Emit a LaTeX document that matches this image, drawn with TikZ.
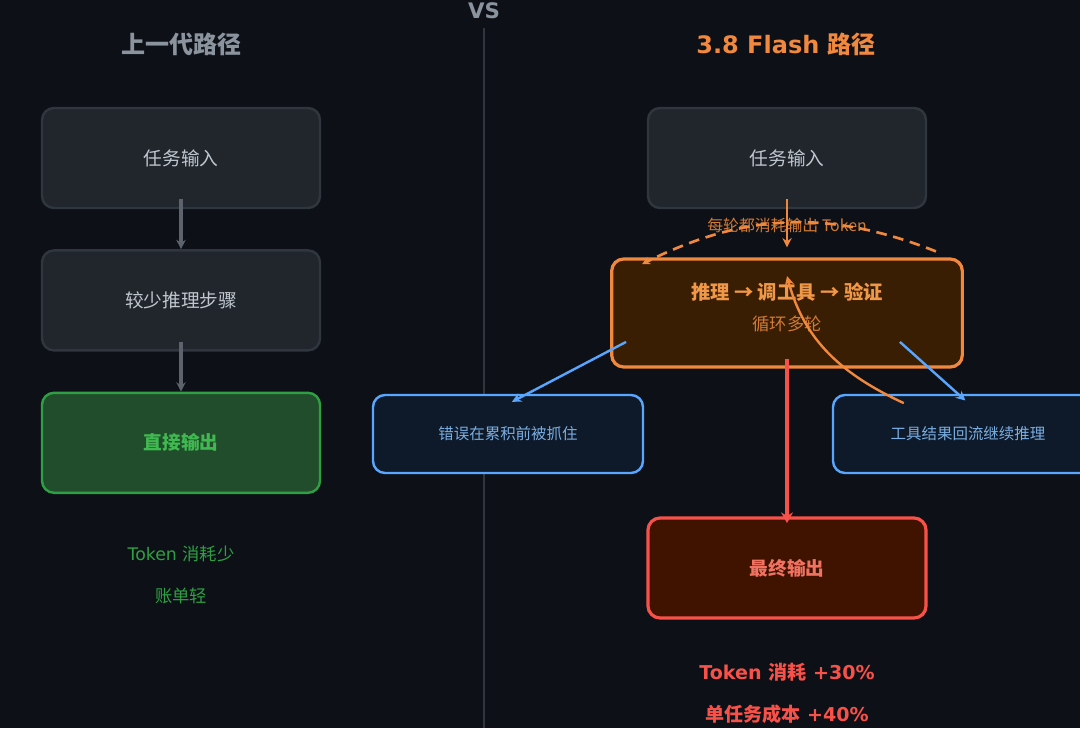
\documentclass[tikz,border=0pt]{standalone}
\usepackage{fontspec}
\setmainfont{DejaVu Sans}
\newfontfamily\cjk{Noto Sans CJK SC}
\usepackage{tikz}
\usetikzlibrary{positioning,arrows.meta}

\definecolor{bg}{HTML}{0D1117}
\definecolor{boxfill}{HTML}{21262D}
\definecolor{boxline}{HTML}{30363D}
\definecolor{boxtext}{HTML}{C0C7CF}
\definecolor{dim}{HTML}{8B949E}
\definecolor{arrgray}{HTML}{5C636C}
\definecolor{grn}{HTML}{2EA043}
\definecolor{grnfill}{HTML}{224D2C}
\definecolor{grntext}{HTML}{3FB950}
\definecolor{org}{HTML}{F0883E}
\definecolor{orgfill}{HTML}{3A1E04}
\definecolor{orgtext}{HTML}{F09848}
\definecolor{orgdim}{HTML}{D07A34}
\definecolor{blu}{HTML}{58A6FF}
\definecolor{blufill}{HTML}{0E1A29}
\definecolor{blutext}{HTML}{7AAEE2}
\definecolor{rd}{HTML}{F85149}
\definecolor{rdfill}{HTML}{3F1300}
\definecolor{rdtext}{HTML}{F27262}

\tikzset{
  box/.style={rectangle, rounded corners=9pt, draw=boxline, fill=boxfill, line width=1.8pt,
    minimum width=208.5pt, minimum height=75pt, text=boxtext, font=\cjk\fontsize{14}{16}\selectfont},
  okbox/.style={box, draw=grn, fill=grnfill, text=grntext, font=\cjk\bfseries\fontsize{14}{16}\selectfont},
  loopbox/.style={box, draw=org, fill=orgfill, line width=2.4pt,
    minimum width=263pt, minimum height=81pt},
  sidebox/.style={box, draw=blu, fill=blufill, text=blutext, minimum width=202.5pt,
    minimum height=58.5pt, font=\cjk\fontsize{11.6}{13}\selectfont},
  endbox/.style={box, draw=rd, fill=rdfill, text=rdtext, line width=2.4pt,
    font=\cjk\bfseries\fontsize{14}{16}\selectfont},
  title/.style={font=\bfseries\fontsize{18}{21}\selectfont},
  grayarr/.style={draw=arrgray, line width=2.5pt, -{Stealth[length=7pt,width=7pt]}},
  orgarr/.style={draw=org, line width=2.2pt, -{Stealth[length=7pt,width=7pt]}},
  bluarr/.style={draw=blu, line width=1.8pt, -{Stealth[length=7pt,width=7pt]}},
  note/.style={font=\fontsize{13}{15}\selectfont}
}

\begin{document}
\begin{tikzpicture}[x=0.75pt,y=-0.75pt]
  \useasboundingbox (0,0) rectangle (1080,728);
  \fill[bg] (0,0) rectangle (1080,728);
  \clip (0,0) rectangle (1080,728);

  % divider
  \node[text=dim, font=\bfseries\fontsize{16}{18}\selectfont] (vs) at (484,11) {VS};
  \draw[boxline, line width=1.4pt] (484,28) -- (484,728);

  % left path
  \node[title, text=dim] (oldT) at (181,44) {\cjk 上一代路径};
  \node[box] (oldIn) at (181,158) {任务输入};
  \node[box, below=30pt of oldIn] (oldFew) {较少推理步骤};
  \node[okbox, below=30pt of oldFew] (oldOut) {直接输出};
  \draw[grayarr] ([yshift=7.5pt]oldIn.south) -- (oldFew.north);
  \draw[grayarr] ([yshift=7.5pt]oldFew.south) -- (oldOut.north);
  \node[note, text=grn] (oldTok) at (181,554) {Token {\cjk 消耗少}};
  \node[note, text=grn] (oldBill) at (181,596) {\cjk 账单轻};

  % right path
  \node[title, text=org] (newT) at (786,44) {3.8 Flash {\cjk 路径}};
  \node[box] (newIn) at (787,158) {任务输入};
  \node[loopbox] (loop) at (787,313) {};
  \node[text=orgtext, font=\cjk\bfseries\fontsize{14.5}{16}\selectfont] (loopMain) at (787,292) {推理 → 调工具 → 验证};
  \node[text=orgdim, font=\cjk\fontsize{13}{15}\selectfont] (loopSub) at (787,324) {循环多轮};
  \node[sidebox] (err) at (508,434) {错误在累积前被抓住};
  \node[sidebox] (tool) at (968,434) {工具结果回流继续推理};
  \node[endbox] (final) at (787,568) {最终输出};

  \node[text=orgdim, font=\cjk\fontsize{11.9}{13}\selectfont] (perRound) at (787,225) {每轮都消耗输出 Token};
  \draw[org, line width=2pt, dash pattern=on 8pt off 5pt, -{Stealth[length=6pt,width=6pt]}]
    ([xshift=-21pt,yshift=4.5pt]loop.north east) to[bend right=24] ([xshift=24pt,yshift=-5pt]loop.north west);
  \draw[orgarr] ([yshift=7.5pt]newIn.south) -- ([yshift=7.5pt]loop.north);
  \draw[bluarr] ([xshift=12pt,yshift=20pt]loop.south west) -- ([xshift=3pt,yshift=-6pt]err.north);
  \draw[bluarr] ([xshift=-48pt,yshift=20pt]loop.south east) -- ([xshift=-2pt,yshift=-5pt]tool.north);
  \draw[orgarr, line width=1.8pt] ([xshift=54pt,yshift=-7pt]tool.north west) to[out=155,in=-75] ([yshift=-14pt]loop.north);
  \draw[rd, line width=3.2pt, -{Stealth[length=8pt,width=9pt]}] ([yshift=7pt]loop.south) -- ([yshift=-5pt]final.north);

  \node[note, text=rd, font=\bfseries\fontsize{14.3}{16}\selectfont] (newTok) at (787,672) {Token {\cjk 消耗} +30\%};
  \node[note, text=rd, font=\bfseries\fontsize{14.3}{16}\selectfont] (newCost) at (787,714) {{\cjk 单任务成本} +40\%};
\end{tikzpicture}
\end{document}
